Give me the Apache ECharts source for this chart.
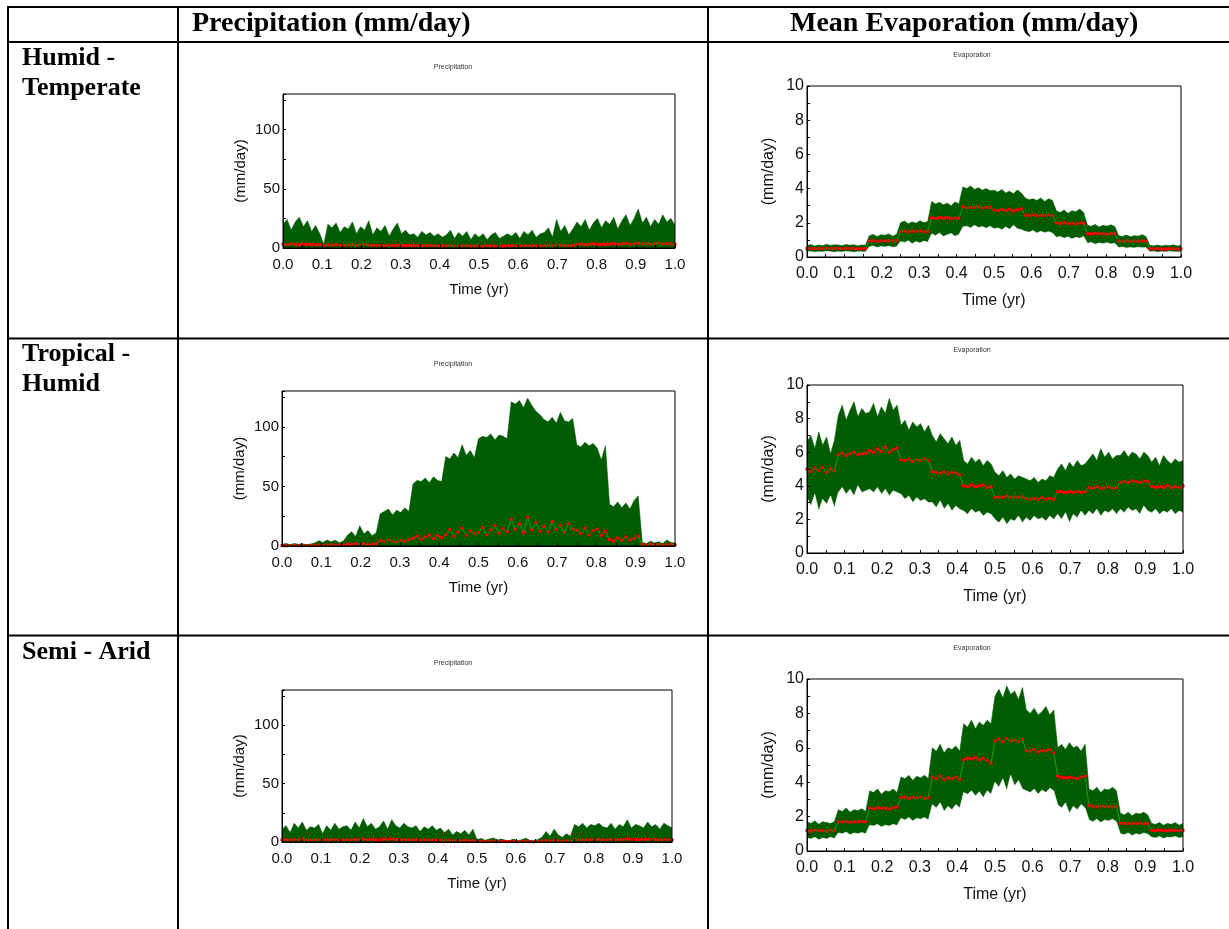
<!DOCTYPE html>
<html>
<head>
<meta charset="utf-8">
<script src="https://cdn.jsdelivr.net/npm/echarts@6/dist/echarts.min.js"></script>
<style>
  html, body { margin: 0; padding: 0; background: #fff; }
  #chart { width: 1229px; height: 929px; }
</style>
</head>
<body>
<div id="chart"></div>
<script>
// sample points: 8 per month, 97 points over one year
var N = 96;
var time = [];
for (var i = 0; i <= N; i++) time.push(i / N);

// ---- Humid - Temperate ----
var precipHT = [
  20, 24, 15, 22, 26, 18, 23, 14,
  19, 12, 3, 20, 17, 21, 13, 18,
  16, 22, 12, 18, 15, 23, 11, 17,
  14, 19, 10, 16, 21, 12, 15, 11,
  12, 9, 14, 11, 13, 10, 12, 9,
  11, 15, 8, 13, 10, 14, 7, 12,
  9, 12, 7, 11, 13, 8, 10, 12,
  10, 13, 8, 14, 11, 15, 9, 12,
  13, 17, 9, 24, 14, 19, 11, 16,
  22, 18, 24, 15, 21, 25, 17, 23,
  20, 26, 16, 23, 28, 19, 25, 33,
  21, 26, 18, 24, 20, 28, 22, 25, 19
];
var precipHTMean = [
  3.2, 2.8, 3.5, 3.0, 2.6, 3.3, 2.9, 3.1,
  2.5, 2.9, 1.8, 2.7, 2.4, 3.0, 2.2, 2.6,
  2.4, 2.9, 2.1, 2.6, 3.1, 2.3, 2.5, 2.0,
  2.2, 1.9, 2.4, 2.0, 2.3, 1.8, 2.1, 2.2,
  1.9, 2.2, 1.7, 2.0, 2.3, 1.8, 2.1, 1.9,
  1.8, 2.1, 1.5, 1.9, 1.7, 2.0, 1.4, 1.8,
  1.7, 1.4, 1.9, 1.6, 1.8, 1.3, 1.7, 1.9,
  1.8, 2.1, 1.5, 1.9, 2.2, 1.6, 2.0, 1.7,
  2.0, 2.4, 1.8, 2.6, 2.1, 2.3, 1.9, 2.2,
  2.9, 3.3, 2.6, 3.1, 3.5, 2.8, 3.2, 3.0,
  3.3, 3.7, 3.0, 3.5, 3.9, 3.2, 3.6, 4.1,
  3.4, 3.8, 3.1, 3.6, 4.2, 3.3, 3.7, 3.5, 3.2
];
var evapHTUpper = [
  0.68, 0.72, 0.65, 0.7, 0.66, 0.74, 0.67, 0.71,
  0.7, 0.66, 0.73, 0.68, 0.72, 0.65, 0.7, 0.69,
  1.25, 1.32, 1.2, 1.3, 1.27, 1.35, 1.22, 1.31,
  2.0, 2.1, 1.95, 2.05, 1.98, 2.12, 2.0, 2.08,
  3.25, 3.1, 3.2, 3.05, 3.15, 3.0, 3.22, 3.1,
  4.1, 4.0, 4.15, 3.95, 4.05, 3.9, 4.0, 3.88,
  3.9, 3.8, 3.95, 3.75, 3.85, 3.7, 3.92, 3.75,
  3.45, 3.35, 3.4, 3.3, 3.45, 3.25, 3.4, 3.3,
  2.7, 2.6, 2.75, 2.55, 2.7, 2.65, 2.8, 2.6,
  1.85, 1.8, 1.9, 1.75, 1.85, 1.8, 1.88, 1.78,
  1.25, 1.2, 1.28, 1.18, 1.25, 1.22, 1.3, 1.2,
  0.68, 0.65, 0.7, 0.64, 0.69, 0.66, 0.71, 0.65, 0.67
];
var evapHTLower = [
  0.3, 0.32, 0.28, 0.31, 0.29, 0.33, 0.3, 0.28,
  0.31, 0.29, 0.32, 0.3, 0.28, 0.31, 0.3, 0.29,
  0.6, 0.65, 0.55, 0.62, 0.58, 0.63, 0.57, 0.6,
  0.9, 0.85, 0.95, 0.78, 0.9, 0.82, 0.93, 0.86,
  1.35, 1.25, 1.4, 1.2, 1.3, 1.38, 1.22, 1.3,
  1.75, 1.8, 1.7, 1.85, 1.72, 1.78, 1.68, 1.8,
  1.65, 1.7, 1.6, 1.75, 1.62, 1.85, 1.65, 1.6,
  1.5, 1.45, 1.55, 1.4, 1.5, 1.42, 1.48, 1.4,
  1.15, 1.2, 1.1, 1.18, 1.05, 1.15, 1.1, 1.2,
  0.8, 0.85, 0.75, 0.82, 0.78, 0.84, 0.76, 0.8,
  0.55, 0.58, 0.52, 0.56, 0.53, 0.57, 0.54, 0.55,
  0.3, 0.32, 0.28, 0.31, 0.29, 0.33, 0.3, 0.29, 0.31
];
var evapHTMean = [
  0.49, 0.5, 0.48, 0.5, 0.49, 0.51, 0.48, 0.5,
  0.5, 0.48, 0.51, 0.49, 0.5, 0.48, 0.5, 0.49,
  0.94, 0.96, 0.92, 0.95, 0.93, 0.96, 0.93, 0.95,
  1.5, 1.53, 1.46, 1.52, 1.48, 1.55, 1.47, 1.5,
  2.3, 2.25, 2.32, 2.27, 2.3, 2.24, 2.28, 2.26,
  2.95, 2.88, 2.93, 2.9, 2.97, 2.86, 2.92, 2.9,
  2.75, 2.7, 2.78, 2.72, 2.8, 2.68, 2.76, 2.82,
  2.45, 2.42, 2.48, 2.4, 2.46, 2.43, 2.47, 2.44,
  2.0, 1.96, 2.02, 1.95, 1.98, 1.94, 2.0, 1.97,
  1.37, 1.34, 1.39, 1.35, 1.38, 1.33, 1.37, 1.36,
  0.94, 0.92, 0.95, 0.9, 0.94, 0.92, 0.95, 0.93,
  0.48, 0.47, 0.49, 0.48, 0.47, 0.49, 0.48, 0.47, 0.48
];

// ---- Tropical - Humid ----
var precipTH = [
  1.5, 2, 1, 2.2, 1.4, 1.8, 1.2, 1.6,
  2.5, 4.5, 3, 5, 3.5, 4.8, 2.8, 4.2,
  9, 12, 8, 17, 10, 13, 8.5, 11,
  27, 29, 31, 26, 30, 28, 32, 29,
  52, 55, 54, 57, 53, 58, 55, 54,
  75, 73, 78, 74, 85, 76, 80, 74,
  90, 92, 91, 94, 89, 93, 92, 90,
  121, 119, 122, 116, 124, 118, 113, 110,
  106, 104, 108, 103, 112, 105, 104, 107,
  85, 83, 87, 84, 86, 82, 72, 84,
  35, 33, 37, 32, 36, 31, 38, 42,
  3, 2, 4, 2.5, 3.5, 2, 5, 3, 2.5
];
var precipTHMean = [
  0.3, 0.2, 0.4, 0.3, 0.2, 0.3, 0.4, 0.3,
  0.6, 0.9, 0.5, 0.8, 1.0, 0.6, 0.9, 0.7,
  1.8, 1.2, 2.1, 1.5, 1.9, 0.9, 1.6, 2.0,
  4.5, 3.6, 5.2, 4.0, 3.3, 4.8, 3.9, 5.5,
  6.5, 8.2, 5.6, 7.6, 9.1, 6.2, 8.8, 7.0,
  9.5, 13.8, 8.1, 11.6, 15.2, 9.0, 12.5, 10.4,
  11.2, 15.5, 9.3, 13.4, 17.1, 10.8, 14.6, 12.0,
  22.5, 14.0, 18.6, 11.2, 24.0, 13.5, 19.8, 12.4,
  16.5, 12.0, 20.5, 13.8, 17.4, 11.5, 18.7, 14.2,
  13.2, 10.5, 15.0, 9.3, 12.8, 14.2, 8.9, 12.0,
  5.5, 4.2, 6.8, 4.8, 7.6, 5.0, 6.2, 8.4,
  1.2, 0.8, 1.5, 0.9, 1.3, 0.7, 1.1, 1.4, 0.9
];
var evapTHUpper = [
  6.6, 7.0, 6.2, 7.2, 6.4, 6.9, 5.9, 6.7,
  8.2, 8.8, 7.9, 8.5, 9.0, 8.1, 8.6, 8.3,
  8.4, 8.9, 8.1, 8.7, 8.3, 9.2, 8.5, 8.8,
  7.6, 7.9, 7.3, 7.8, 7.5, 7.7, 7.2, 7.6,
  7.0, 6.6, 7.1, 6.8, 6.5, 6.9, 6.4, 6.7,
  5.5, 5.3, 5.7, 5.4, 5.6, 5.2, 5.5, 5.3,
  4.8, 4.6, 4.9, 4.5, 4.7, 4.4, 4.6, 4.5,
  4.4, 4.3, 4.5, 4.2, 4.4, 4.3, 4.6, 4.5,
  5.0, 5.3, 4.9, 5.4, 5.1, 5.5, 5.2, 5.3,
  5.6, 5.9, 5.5, 6.2, 5.7, 6.0, 5.6, 5.8,
  5.8, 6.1, 5.7, 6.0, 5.9, 5.6, 6.0, 5.8,
  5.4, 5.7, 5.2, 5.8, 5.5, 5.3, 5.6, 5.4, 5.5
];
var evapTHLower = [
  3.3, 2.8, 3.5, 2.5, 3.2, 2.9, 3.4, 2.7,
  3.6, 3.9, 3.5, 3.8, 3.4, 4.0, 3.6, 3.7,
  3.8, 3.6, 3.9, 3.5, 3.8, 3.4, 3.7, 3.6,
  3.5, 3.2, 3.4, 3.0, 3.3, 3.1, 3.2, 3.0,
  3.0, 2.7, 3.1, 2.6, 2.9, 2.5, 2.8, 2.6,
  2.5, 2.3, 2.6, 2.4, 2.5, 2.2, 2.4, 2.3,
  2.0, 1.8, 2.1, 1.7, 2.0, 1.9, 2.2, 1.8,
  2.1, 1.9, 2.2, 2.0, 2.1, 1.9, 2.2, 2.0,
  2.3, 2.0, 2.4, 1.8, 2.3, 2.1, 2.5, 2.2,
  2.5, 2.3, 2.6, 2.2, 2.5, 2.4, 2.6, 2.3,
  2.6, 2.4, 2.7, 2.5, 2.6, 2.3, 2.8, 2.5,
  2.4, 2.6, 2.3, 2.5, 2.4, 2.6, 2.3, 2.5, 2.4
];
var evapTHMean = [
  5.0, 4.85, 5.05, 4.9, 5.1, 4.8, 5.0, 4.9,
  5.85, 5.95, 5.8, 5.9, 6.0, 5.85, 5.9, 5.95,
  6.1, 6.0, 6.2, 6.05, 6.3, 6.0, 6.15, 6.25,
  5.55, 5.5, 5.6, 5.45, 5.55, 5.5, 5.6, 5.5,
  4.85, 4.8, 4.75, 4.85, 4.7, 4.8, 4.75, 4.65,
  4.0, 3.95, 4.05, 3.95, 4.0, 4.05, 3.9, 3.95,
  3.3, 3.35, 3.3, 3.4, 3.3, 3.35, 3.3, 3.35,
  3.25, 3.2, 3.25, 3.2, 3.3, 3.2, 3.25, 3.2,
  3.65, 3.65, 3.6, 3.65, 3.6, 3.65, 3.6, 3.65,
  3.9, 3.85, 3.95, 3.85, 3.9, 3.95, 3.85, 3.9,
  4.2, 4.25, 4.2, 4.3, 4.25, 4.2, 4.3, 4.25,
  3.95, 3.9, 3.95, 3.9, 4.0, 3.9, 3.95, 3.9, 4.0
];

// ---- Semi - Arid ----
var precipSA = [
  11, 14, 8, 16, 12, 17, 10, 13,
  12, 15, 7, 14, 10, 16, 11, 13,
  14, 10, 17, 12, 20, 13, 16, 11,
  13, 18, 11, 19, 14, 12, 16, 13,
  12, 14, 9, 13, 11, 14, 10, 12,
  8, 11, 6, 9, 7, 10, 6, 11,
  2, 3, 1.5, 2.5, 3.5, 1.8, 2.6, 1.5,
  1.2, 2.6, 1, 2, 3.2, 1.5, 1, 2.2,
  4, 9, 5, 11, 6, 4, 7, 5,
  15, 13, 16, 12, 15, 14, 16, 13,
  12, 16, 11, 15, 13, 19, 12, 15,
  14, 12, 17, 13, 15, 11, 16, 14, 12
];
var precipSAMean = [
  1.8, 2.2, 1.6, 2.4, 1.9, 2.5, 1.7, 2.0,
  1.9, 2.3, 1.5, 2.1, 1.8, 2.4, 1.6, 2.0,
  2.1, 1.7, 2.4, 1.9, 2.6, 1.8, 2.2, 1.6,
  2.0, 2.5, 1.7, 2.6, 2.1, 1.8, 2.3, 1.9,
  1.8, 2.1, 1.4, 1.9, 1.6, 2.0, 1.5, 1.7,
  1.2, 1.5, 0.9, 1.3, 1.0, 1.4, 0.8, 1.1,
  0.4, 0.6, 0.3, 0.5, 0.7, 0.3, 0.5, 0.4,
  0.3, 0.5, 0.2, 0.4, 0.6, 0.3, 0.2, 0.4,
  0.8, 1.2, 0.7, 1.4, 0.9, 0.6, 1.1, 0.8,
  2.0, 1.7, 2.3, 1.8, 2.1, 1.9, 2.4, 1.8,
  1.9, 2.3, 1.7, 2.2, 2.0, 2.6, 1.8, 2.1,
  2.1, 1.8, 2.4, 1.9, 2.2, 1.7, 2.3, 2.0, 1.9
];
var evapSAUpper = [
  1.7, 1.6, 1.75, 1.55, 1.7, 1.65, 1.6, 1.7,
  2.4, 2.3, 2.5, 2.25, 2.4, 2.35, 2.45, 2.3,
  3.5, 3.4, 3.6, 3.3, 3.5, 3.45, 3.6, 3.4,
  4.3, 4.2, 4.4, 4.1, 4.35, 4.25, 4.4, 4.2,
  6.0, 5.8, 6.2, 5.7, 6.0, 5.9, 6.1, 5.8,
  7.4, 7.2, 7.6, 7.1, 7.5, 7.3, 7.6, 7.4,
  9.0, 9.4, 8.9, 9.6, 9.1, 9.3, 8.8, 9.5,
  8.2, 8.0, 8.3, 7.9, 8.1, 8.4, 7.9, 8.2,
  6.0, 6.2, 5.9, 6.3, 6.0, 6.1, 5.8, 6.2,
  3.6, 3.5, 3.7, 3.4, 3.6, 3.55, 3.7, 3.5,
  2.2, 2.1, 2.25, 2.05, 2.2, 2.15, 2.25, 2.1,
  1.6, 1.55, 1.65, 1.5, 1.6, 1.55, 1.65, 1.5, 1.6
];
var evapSALower = [
  0.75, 0.7, 0.8, 0.65, 0.75, 0.7, 0.8, 0.72,
  1.05, 1.0, 1.1, 0.95, 1.05, 1.0, 1.08, 1.0,
  1.5, 1.45, 1.55, 1.4, 1.5, 1.45, 1.55, 1.48,
  1.9, 1.8, 1.95, 1.75, 1.9, 1.85, 1.95, 1.8,
  2.7, 2.5, 2.8, 2.3, 2.6, 2.4, 2.7, 2.5,
  3.4, 3.3, 3.5, 3.2, 3.45, 3.1, 3.5, 3.3,
  4.0, 3.7, 4.2, 3.5, 4.4, 3.8, 4.1, 3.6,
  3.5, 3.4, 3.6, 3.3, 3.55, 3.4, 3.65, 3.5,
  2.7, 2.5, 2.8, 2.2, 2.6, 2.4, 2.7, 2.5,
  1.8, 1.7, 1.85, 1.65, 1.8, 1.75, 1.85, 1.7,
  1.0, 0.95, 1.05, 0.9, 1.0, 0.95, 1.05, 0.98,
  0.8, 0.75, 0.85, 0.72, 0.8, 0.78, 0.85, 0.75, 0.8
];
var evapSAMean = [
  1.2, 1.15, 1.22, 1.18, 1.2, 1.15, 1.22, 1.18,
  1.7, 1.68, 1.72, 1.67, 1.7, 1.69, 1.72, 1.7,
  2.5, 2.45, 2.52, 2.47, 2.5, 2.44, 2.52, 2.55,
  3.1, 3.15, 3.05, 3.12, 3.08, 3.15, 3.05, 3.1,
  4.3, 4.2, 4.35, 4.15, 4.25, 4.2, 4.3, 4.15,
  5.3, 5.4, 5.35, 5.45, 5.3, 5.4, 5.25, 5.1,
  6.4, 6.5, 6.35, 6.55, 6.4, 6.45, 6.35, 6.5,
  5.85, 5.8, 5.9, 5.75, 5.85, 5.8, 5.9, 5.7,
  4.35, 4.3, 4.25, 4.3, 4.25, 4.2, 4.3, 4.35,
  2.65, 2.6, 2.55, 2.62, 2.58, 2.6, 2.55, 2.6,
  1.62, 1.6, 1.58, 1.62, 1.6, 1.63, 1.58, 1.6,
  1.2, 1.18, 1.22, 1.2, 1.17, 1.21, 1.19, 1.2, 1.2
];

var rowLabels = [['Humid -', 'Temperate'], ['Tropical -', 'Humid'], ['Semi - Arid']];
var colHeaders = ['Precipitation (mm/day)', 'Mean Evaporation (mm/day)'];

var GREEN = '#005c00';
var MEANLINE = '#1f9a1f';
var RED = '#ff0000';
var SANS = '"Liberation Sans", Arial, sans-serif';
var SERIF = '"Liberation Serif", "Times New Roman", serif';

function pairs(vals) {
  return vals.map(function (v, i) { return [time[i], v]; });
}

// grid boxes: precipitation column then evaporation column
var grids = [
  { left: 283, top: 94, width: 392, height: 154 },
  { left: 282, top: 391, width: 393, height: 155 },
  { left: 282, top: 690, width: 390, height: 152 },
  { left: 807, top: 86, width: 374, height: 171 },
  { left: 807, top: 385, width: 376, height: 168 },
  { left: 807, top: 679, width: 376, height: 172 }
];
var precipSets = [[precipHT, precipHTMean], [precipTH, precipTHMean], [precipSA, precipSAMean]];
var evapSets = [
  [evapHTUpper, evapHTLower, evapHTMean],
  [evapTHUpper, evapTHLower, evapTHMean],
  [evapSAUpper, evapSALower, evapSAMean]
];

var option = {
  animation: false,
  backgroundColor: '#fff',
  textStyle: { fontFamily: SANS },
  grid: [], xAxis: [], yAxis: [], series: [], graphic: []
};

grids.forEach(function (g, k) {
  var isEvap = k >= 3;
  var fs = isEvap ? 16 : 15;
  option.grid.push({
    left: g.left, top: g.top, width: g.width, height: g.height, z: 10,
    show: true, borderColor: '#000', borderWidth: 1, outerBoundsMode: 'none'
  });
  option.xAxis.push({
    type: 'value', gridIndex: k, min: 0, max: 1, interval: 0.1, z: 10,
    name: 'Time (yr)', nameLocation: 'middle', nameGap: isEvap ? 36 : 34,
    nameTextStyle: { fontSize: fs, color: '#111', fontFamily: SANS },
    axisLine: { lineStyle: { color: '#000', width: 1 } },
    axisTick: { inside: true, length: 3, lineStyle: { color: '#000' } },
    minorTick: { show: true, splitNumber: 2, length: 3, lineStyle: { color: '#000' } },
    splitLine: { show: false },
    axisLabel: {
      fontSize: fs, color: '#111', margin: 9, fontFamily: SANS,
      formatter: function (v) { return v.toFixed(1); }
    }
  });
  option.yAxis.push(isEvap ? {
    type: 'value', gridIndex: k, min: 0, max: 10, interval: 2, z: 10,
    name: '(mm/day)', nameLocation: 'middle', nameGap: 30,
    nameTextStyle: { fontSize: fs, color: '#111', fontFamily: SANS },
    axisLine: { show: true, lineStyle: { color: '#000', width: 1 } },
    axisTick: { show: true, inside: true, length: 3, lineStyle: { color: '#000' } },
    minorTick: { show: true, splitNumber: 2, length: 3, lineStyle: { color: '#000' } },
    splitLine: { show: false },
    axisLabel: { fontSize: fs, color: '#111', margin: 3, fontFamily: SANS }
  } : {
    type: 'value', gridIndex: k, min: 0, max: 130, interval: 25, z: 10,
    name: '(mm/day)', nameLocation: 'middle', nameGap: 35,
    nameTextStyle: { fontSize: fs, color: '#111', fontFamily: SANS },
    axisLine: { show: true, lineStyle: { color: '#000', width: 1 } },
    axisTick: { show: true, inside: true, length: 3, lineStyle: { color: '#000' } },
    splitLine: { show: false },
    axisLabel: {
      fontSize: fs, color: '#111', margin: 3, fontFamily: SANS,
      formatter: function (v) { return v % 50 === 0 ? String(v) : ''; }
    }
  });
});

function meanSeries(k, vals) {
  return {
    type: 'line', xAxisIndex: k, yAxisIndex: k, data: pairs(vals), z: 5,
    symbol: 'rect', symbolSize: 3, showAllSymbol: true,
    itemStyle: { color: RED, borderWidth: 0 },
    lineStyle: { color: MEANLINE, width: 1 }
  };
}
function areaSeries(k, vals, fill, z) {
  return {
    type: 'line', xAxisIndex: k, yAxisIndex: k, data: pairs(vals), z: z,
    symbol: 'none', lineStyle: { color: fill, width: 0.6 },
    areaStyle: { color: fill, opacity: 1 }
  };
}

precipSets.forEach(function (s, k) {
  option.series.push(areaSeries(k, s[0], GREEN, 2));
  option.series.push(meanSeries(k, s[1]));
});

// envelope band: green up to the upper curve, white below the lower curve
evapSets.forEach(function (s, j) {
  var k = j + 3;
  option.series.push(areaSeries(k, s[0], GREEN, 2));
  option.series.push(areaSeries(k, s[1], '#ffffff', 3));
  option.series.push(meanSeries(k, s[2]));
});

// table rules
var lines = [
  [7, 7, 1229, 7], [7, 42, 1229, 42], [7, 338.5, 1229, 338.5], [7, 635.5, 1229, 635.5],
  [8, 6, 8, 929], [178, 6, 178, 929], [708, 6, 708, 929]
];
lines.forEach(function (l) {
  option.graphic.push({
    type: 'line', silent: true,
    shape: { x1: l[0], y1: l[1], x2: l[2], y2: l[3] },
    style: { stroke: '#000', lineWidth: 2 }
  });
});

// column headers
option.graphic.push({
  type: 'text', x: 192, y: 24,
  style: { text: colHeaders[0], fontSize: 28, fontWeight: 'bold', fontFamily: SERIF, fill: '#000', align: 'left', verticalAlign: 'middle' }
});
option.graphic.push({
  type: 'text', x: 790, y: 24,
  style: { text: colHeaders[1], fontSize: 28, fontWeight: 'bold', fontFamily: SERIF, fill: '#000', align: 'left', verticalAlign: 'middle' }
});

// row labels
var rowTops = [58, 354, 652];
rowLabels.forEach(function (lbl, r) {
  lbl.forEach(function (t, n) {
    option.graphic.push({
      type: 'text', x: 22, y: rowTops[r] + n * 30,
      style: { text: t, fontSize: 26, fontWeight: 'bold', fontFamily: SERIF, fill: '#000', align: 'left', verticalAlign: 'middle' }
    });
  });
});

// small panel titles
var smallTitles = [
  ['Precipitation', 453, 67], ['Precipitation', 453, 364], ['Precipitation', 453, 663],
  ['Evaporation', 972, 55], ['Evaporation', 972, 350], ['Evaporation', 972, 648]
];
smallTitles.forEach(function (t) {
  option.graphic.push({
    type: 'text', x: t[1], y: t[2],
    style: { text: t[0], fontSize: 7, fontFamily: SANS, fill: '#333', align: 'center', verticalAlign: 'middle' }
  });
});

var chart = echarts.init(document.getElementById('chart'));
chart.setOption(option);
</script>
</body>
</html>
